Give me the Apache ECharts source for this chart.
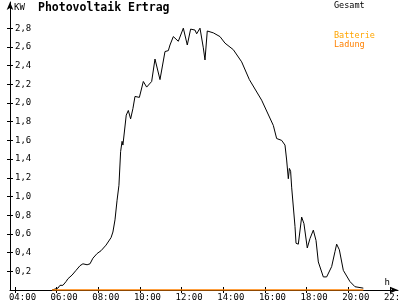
<!DOCTYPE html>
<html>
<head>
<meta charset="utf-8">
<script src="https://cdn.jsdelivr.net/npm/echarts@6/dist/echarts.min.js"></script>
<style>html,body{margin:0;padding:0;background:#fff}#c{width:400px;height:300px}</style>
</head>
<body>
<div id="c"></div>
<script>
// time of day in hours
const hours = [5.78, 5.92, 5.97, 6.06, 6.16, 6.30, 6.45, 6.54, 6.74, 6.93, 7.12, 7.26, 7.46, 7.60, 7.74, 7.94, 8.13, 8.37, 8.61, 8.70, 8.80, 8.90, 8.99, 9.07, 9.14, 9.18, 9.34, 9.44, 9.55, 9.66, 9.76, 9.97, 10.16, 10.32, 10.56, 10.72, 10.96, 11.20, 11.36, 11.44, 11.60, 11.84, 12.08, 12.27, 12.43, 12.64, 12.72, 12.88, 13.04, 13.12, 13.23, 13.52, 13.84, 14.08, 14.48, 14.88, 15.25, 15.84, 16.40, 16.56, 16.80, 16.96, 17.04, 17.12, 17.17, 17.23, 17.28, 17.44, 17.49, 17.60, 17.76, 17.87, 18.03, 18.16, 18.32, 18.45, 18.56, 18.80, 18.96, 19.20, 19.36, 19.44, 19.57, 19.76, 20.08, 20.32, 20.72];
// Gesamt power in kW
const gesamtKW = [0, 0.01, 0.03, 0.02, 0.05, 0.05, 0.09, 0.12, 0.16, 0.21, 0.26, 0.28, 0.27, 0.28, 0.34, 0.39, 0.42, 0.48, 0.56, 0.62, 0.75, 0.96, 1.12, 1.48, 1.59, 1.55, 1.87, 1.92, 1.83, 1.94, 2.07, 2.06, 2.23, 2.17, 2.23, 2.47, 2.25, 2.55, 2.56, 2.62, 2.71, 2.66, 2.80, 2.62, 2.79, 2.78, 2.74, 2.80, 2.59, 2.46, 2.77, 2.75, 2.71, 2.64, 2.57, 2.44, 2.25, 2.03, 1.76, 1.62, 1.60, 1.55, 1.39, 1.19, 1.30, 1.27, 1.10, 0.68, 0.50, 0.49, 0.78, 0.71, 0.45, 0.55, 0.64, 0.53, 0.30, 0.14, 0.14, 0.25, 0.41, 0.49, 0.43, 0.21, 0.09, 0.035, 0.02];
// Batterie Ladung
const ladungHours = [5.78, 20.72];
const ladungKW = [0, 0];
// axis ticks
const xTickHours = [4, 6, 8, 10, 12, 14, 16, 18, 20, 22];
const yTickKW = [0.2, 0.4, 0.6, 0.8, 1.0, 1.2, 1.4, 1.6, 1.8, 2.0, 2.2, 2.4, 2.6, 2.8];

const FONT = 'DejaVu Sans Mono';
const xMin = 3.76, xMax = 22.385, labelShift = 0.36;
const yMin = 0, yMax = 3.08;

const chart = echarts.init(document.getElementById('c'), null, {renderer: 'canvas'});
chart.setOption({
  animation: false,
  backgroundColor: '#fff',
  title: {
    text: 'Photovoltaik Ertrag', left: 38, top: 2, padding: 0,
    textStyle: {fontFamily: FONT, fontSize: 11.5, fontWeight: 'bold', color: '#000'}
  },
  legend: [
    {
      data: ['Gesamt'], left: 329, top: 1, padding: 0, icon: 'none', itemWidth: 0, itemHeight: 0,
      textStyle: {fontFamily: FONT, fontSize: 8.5, color: '#000', padding: 0}
    },
    {
      data: ['Batterie Ladung'], left: 329, top: 31, padding: 0, icon: 'none', itemWidth: 0, itemHeight: 0,
      formatter: () => '{a|Batterie}\n{b|Ladung}',
      textStyle: {
        fontFamily: FONT, fontSize: 8.5, padding: 0,
        rich: {
          a: {fontFamily: FONT, fontSize: 8.5, color: '#FFA500', lineHeight: 9},
          b: {fontFamily: FONT, fontSize: 8.5, color: '#FF8000', lineHeight: 9}
        }
      }
    }
  ],
  grid: {left: 10, right: 2, top: 2, bottom: 10, containLabel: false, outerBoundsMode: 'none'},
  xAxis: [
    {
      type: 'value', min: xMin, max: xMax, position: 'bottom',
      name: 'h', nameLocation: 'end', nameGap: -8,
      nameTextStyle: {fontFamily: FONT, fontSize: 9, color: '#000', align: 'right', verticalAlign: 'bottom', padding: [0, 0, 3, 0]},
      axisLine: {show: true, lineStyle: {color: '#000', width: 1}, symbol: ['none', 'arrow'], symbolSize: [5, 8]},
      axisTick: {show: true, inside: false, length: 3, customValues: xTickHours, lineStyle: {color: '#000'}},
      axisLabel: {show: false},
      splitLine: {show: false}
    },
    {
      type: 'value', min: xMin, max: xMax, position: 'bottom',
      axisLine: {show: false},
      axisTick: {show: true, inside: true, length: 3, customValues: xTickHours, lineStyle: {color: '#000'}},
      axisLabel: {show: false},
      splitLine: {show: false}
    },
    {
      type: 'value', min: xMin - labelShift, max: xMax - labelShift, position: 'bottom',
      axisLine: {show: false},
      axisTick: {show: false},
      axisLabel: {
        show: true, margin: 3, customValues: xTickHours, showMinLabel: true, showMaxLabel: true, hideOverlap: false,
        fontFamily: FONT, fontSize: 9, color: '#000',
        formatter: v => (v < 10 ? '0' : '') + v + ':00'
      },
      splitLine: {show: false}
    }
  ],
  yAxis: [
    {
      type: 'value', min: yMin, max: yMax, position: 'left',
      name: 'KW', nameLocation: 'end', nameGap: -1,
      nameTextStyle: {fontFamily: FONT, fontSize: 9, color: '#000', align: 'left', verticalAlign: 'top', padding: [0, 0, 0, 4]},
      axisLine: {show: true, lineStyle: {color: '#000', width: 1}, symbol: ['none', 'arrow'], symbolSize: [5, 8]},
      axisTick: {show: true, inside: false, length: 3, customValues: yTickKW, lineStyle: {color: '#000'}},
      axisLabel: {
        show: true, inside: true, margin: 5, customValues: yTickKW,
        fontFamily: FONT, fontSize: 9, color: '#000',
        formatter: v => v.toFixed(1).replace('.', ',')
      },
      splitLine: {show: false}
    },
    {
      type: 'value', min: yMin, max: yMax, position: 'left',
      axisLine: {show: false},
      axisTick: {show: true, inside: true, length: 3, customValues: yTickKW, lineStyle: {color: '#000'}},
      axisLabel: {show: false},
      splitLine: {show: false}
    }
  ],
  series: [
    {
      name: 'Gesamt', type: 'line', xAxisIndex: 0, yAxisIndex: 0,
      data: hours.map((h, i) => [h, gesamtKW[i]]),
      showSymbol: false, symbol: 'none', smooth: false,
      lineStyle: {color: '#000', width: 1}, itemStyle: {color: '#000'}
    },
    {
      name: 'Batterie Ladung', type: 'line', xAxisIndex: 0, yAxisIndex: 0,
      data: ladungHours.map((h, i) => [h, ladungKW[i]]),
      showSymbol: false, symbol: 'none',
      lineStyle: {color: '#FF8000', width: 1.5}, itemStyle: {color: '#FF8000'}
    }
  ]
});
</script>
</body>
</html>
